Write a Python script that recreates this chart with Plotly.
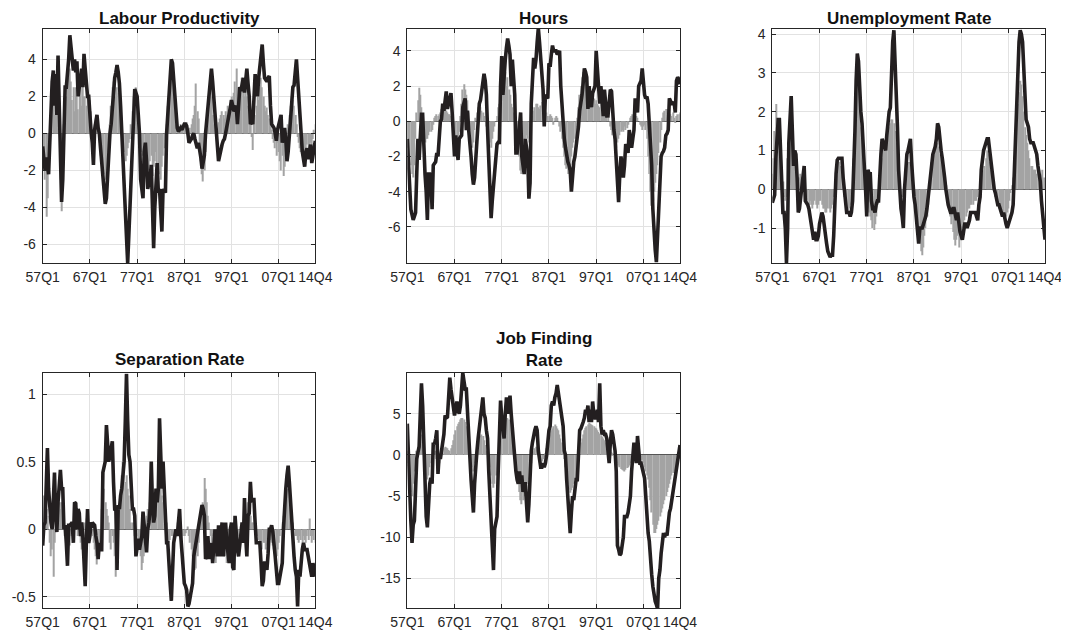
import plotly.graph_objects as go

# ---------------- data (quarterly, 1957Q1 .. 2014Q4) ----------------
tick_pos = [1, 41, 81, 121, 161, 201, 232]
tick_text = ["57Q1", "67Q1", "77Q1", "87Q1", "97Q1", "07Q1", "14Q4"]
quarters = list(range(1, 233))

titles = ["Labour Productivity", "Hours", "Unemployment Rate", "Separation Rate", "Job Finding<br>Rate"]

lp_model = [
    -0.7, -1.5, -2.0, -1.3, -1.8, -2.2, -0.5, 1.5, 2.8, 3.4,
    1.5, 3.2, 1.0, 4.2, 2.0, -1.5, -3.7, -2.5, 1.0, 2.5,
    2.5, 3.2, 4.0, 5.3, 4.5, 3.6, 3.4, 4.0, 3.3, 3.9,
    2.0, 2.5, 3.0, 3.5, 2.5, 4.3, 3.5, 2.6, 2.0, 2.0,
    0.5, 0.1, -0.5, -1.7, 0.2, 0.7, 1.0, 0.3, 0.0, -0.8,
    -1.6, -2.5, -3.2, -3.8, -3.5, -2.0, -1.0, 0.0, 0.5, 1.5,
    2.5, 3.0, 3.3, 3.7, 3.3, 2.7, 1.5, 0.0, -2.0, -3.2,
    -4.5, -5.8, -7.0, -5.5, -4.0, -2.5, -1.0, 1.5, 2.4, 2.2,
    2.0, 1.0, 0.0, -2.5, -3.0, -3.5, -1.0, -0.5, -1.5, -3.0,
    -2.7, -2.4, -1.7, -4.0, -6.2, -4.0, -2.5, -1.6, -3.2, -3.0,
    -4.2, -5.3, -3.0, -3.1, -3.2, 0.0, 1.2, 2.5, 3.2, 4.0,
    3.8, 3.0, 2.0, 1.0, 0.3, 0.1, 0.2, 0.3, 0.2, 0.4,
    0.5, 0.5, 0.4, 0.0, -0.5, -0.4, -0.3, -0.1, 0.0, -0.3,
    -0.6, -0.8, -0.5, -0.8, -1.3, -1.9, -1.5, -1.2, 0.0, 0.8,
    1.3, 2.2, 2.8, 3.5, 2.8, 2.0, 1.0, 0.0, -1.0, -1.5,
    -1.2, -0.8, -0.6, -0.4, -0.3, 0.0, 0.3, 0.7, 1.0, 1.4,
    1.8, 1.5, 1.2, 1.3, 1.5, 0.5, 1.5, 2.5, 2.3, 2.6,
    3.0, 2.2, 2.8, 3.5, 2.7, 2.0, 0.5, 0.6, 0.5, 1.8,
    3.2, 2.5, 2.0, 3.0, 3.5, 4.2, 4.8, 3.8, 3.0, 2.9,
    2.8, 3.0, 3.1, 1.5, 0.5, 0.4, 0.3, 0.0, -0.4, 0.2,
    0.5, 0.8, 1.0, -0.5, 0.0, 0.3, -0.3, -1.5, -1.0, -0.2,
    0.8, 1.8, 2.5, 2.6, 3.2, 4.0, 3.0, 2.0, 0.8, 0.0,
    -1.0, -1.4, -1.8, -1.0, -0.8, -1.4, -1.0, -0.6, -1.6, -1.0,
    -0.8, -0.4,
]
lp_data = [
    -1.0, -1.8, -2.5, -4.5, -3.5, -2.0, -0.5, 1.0, 2.0, 2.5,
    1.0, 2.0, 1.5, 3.0, 1.0, -2.5, -4.2, -2.0, 0.5, 1.5,
    2.0, 2.5, 3.0, 3.5, 2.8, 1.8, 2.5, 1.2, 2.5, 2.0,
    1.3, 2.2, 2.5, 1.5, 2.8, 2.0, 2.0, 1.5, 2.2, 2.0,
    1.8, 1.2, 0.2, -0.8, 0.5, 0.8, 1.0, 0.2, -0.5, -1.2,
    -1.5, -2.0, -2.2, -2.5, -2.0, -1.0, -0.3, 0.5, 1.5, 2.5,
    2.8, 3.0, 2.0, 2.5, 2.2, 1.5, 1.0, 0.5, -0.5, -1.0,
    -1.5, -1.2, -0.8, -0.5, -0.3, 0.5, 1.2, 2.0, 2.2, 2.5,
    1.5, 0.8, 0.3, -0.5, -1.0, -1.2, -0.8, -1.0, -1.5, -1.8,
    -2.0, -1.5, -1.2, -2.3, -1.8, -1.5, -1.0, -2.0, -1.6, -2.2,
    -2.5, -1.8, -1.2, -0.8, -0.5, 0.5, 1.5, 2.0, 2.5, 3.0,
    3.2, 2.5, 1.5, 0.5, 0.3, 0.4, 0.2, 0.5, 0.3, 0.4,
    0.5, 0.3, 0.6, 0.2, -0.3, 0.3, 0.5, 0.8, 1.0, 1.5,
    2.7, 1.2, 0.8, -0.5, -1.5, -2.2, -2.6, -2.0, -1.0, 0.5,
    1.2, 2.0, 2.5, 2.0, 1.0, 0.5, 0.8, 0.5, 0.3, 0.6,
    0.8, 1.0, 1.2, 1.0, 0.8, 1.2, 1.0, 1.5, 1.3, 1.8,
    2.0, 1.5, 2.2, 2.8, 3.5, 2.5, 2.0, 1.5, 2.2, 3.0,
    2.5, 2.0, 2.8, 2.0, 1.5, 1.0, 0.5, -0.2, -0.9, 0.5,
    1.0, 1.5, 2.0, 1.8, 2.5, 3.0, 2.5, 2.0, 1.5, 1.2,
    1.4, 1.0, 0.8, 0.5, 0.2, -0.3, -0.5, -0.8, -1.2, -0.5,
    -1.0, -1.5, -2.0, -1.2, -2.3, -1.8, -1.0, -0.5, 0.5, 1.0,
    1.5, 2.0, 1.8, 1.5, 1.0, 0.5, -0.2, -0.5, -0.8, -1.0,
    -1.2, -0.8, -1.5, -1.0, -0.6, -0.8, -1.2, -0.5, -0.8, -0.3,
    0.2, 0.5,
]

hours_model = [
    -1.0, -2.5, -3.5, -5.0, -5.3, -5.6, -5.4, -5.2, -3.0, -1.0,
    -2.2, -0.8, 0.4, 0.4, -2.0, -3.0, -4.0, -5.6, -3.0, -3.0,
    -3.2, -5.0, -2.5, -2.4, -2.3, -1.8, -2.0, -1.0, 0.0, 0.1,
    1.0, 0.6, 1.2, 1.7, 0.7, 1.1, 1.5, 1.6, 0.5, -1.0,
    -2.0, -0.8, -1.5, -2.2, -1.0, -0.9, -0.8, 0.8, 1.0, 1.3,
    -0.5, 0.6, -0.5, -1.7, -2.0, -3.0, -3.6, -3.2, -2.0, -1.0,
    0.0, 1.0, 1.2, 1.8, 2.5, 2.7, 2.3, 1.5, -0.5, -2.0,
    -3.5, -5.5, -4.5, -3.8, -2.8, -2.0, -1.3, -1.2, -1.2, 2.0,
    3.7, 1.5, 2.8, 3.5, 4.2, 4.7, 4.3, 3.8, 2.0, 3.5,
    2.5, 1.5, -1.8, -1.8, -1.0, -0.3, 0.5, -2.0, -2.8, -3.0,
    -1.0, -1.5, -2.0, -4.4, -3.5, 1.0, 2.0, 3.6, 3.0, 3.5,
    4.5, 5.3, 4.5, 3.5, 2.3, 1.8, -0.3, 1.5, 1.4, 1.3,
    3.3, 3.1, 3.8, 4.3, 4.0, 4.0, 4.0, 3.8, 3.9, 4.0,
    2.0, 1.0, -0.5, -1.0, -1.5, -2.0, -2.3, -2.5, -2.8, -4.0,
    -3.0, -2.3, -2.0, -1.5, -1.0, -0.3, 0.6, 1.0, 1.5, 2.2,
    3.0, 2.8, 2.5, 0.7, 2.0, 1.2, 0.8, 1.6, 1.8, 2.0,
    4.0, 3.0, 2.0, 1.0, 2.0, 1.0, 0.3, 1.8, 0.8, 0.3,
    0.3, 1.0, 1.8, 1.7, 0.2, -0.5, -1.0, -2.0, -3.0, -4.6,
    -3.0, -2.0, -2.5, -3.2, -2.5, -1.3, -1.5, -1.8, -0.5, -1.0,
    -1.5, -1.0, -0.5, 1.3, 0.8, 0.5, 2.0, 2.2, 2.3, 3.0,
    2.0, 1.5, 1.3, 1.4, 1.0, 0.0, -1.5, -2.5, -5.0, -6.5,
    -7.3, -8.0, -6.5, -5.0, -3.5, -2.0, -1.8, -1.7, -1.5, -0.8,
    -0.7, -0.5, 1.3, 1.1, 1.0, 1.0, 1.1, 0.5, 2.3, 2.5,
    2.4, 2.1,
]
hours_data = [
    -1.0, -1.5, -2.0, -2.5, -3.0, -3.2, -2.5, -1.0, 0.5, 1.2,
    1.9, 1.5, 0.8, -0.3, -1.0, -1.2, -1.0, -1.0, -0.8, -0.6,
    -0.6, -0.5, -0.2, 0.2, 0.3, 0.4, 0.3, 0.4, 0.5, 0.7,
    0.8, 1.0, 0.8, 0.6, 0.5, 0.4, 0.4, 0.3, 0.0, -0.5,
    -1.0, -1.2, -1.5, -1.0, -0.6, 0.3, 1.0, 1.8, 2.1, 1.8,
    1.5, 1.2, 0.5, -0.5, -1.2, -1.5, -1.2, -0.5, 0.2, 0.5,
    0.8, 1.0, 0.8, 0.6, 0.5, 0.3, 0.0, -0.3, -0.5, -0.8,
    -1.2, -1.5, -1.0, -0.6, -0.3, 0.0, 0.3, 0.8, 1.0, 1.5,
    2.0, 2.5, 3.0, 2.8, 2.0, 2.5, 1.8, 1.5, 1.0, 0.8,
    0.5, 0.3, -0.5, -1.0, -1.5, -2.0, -2.8, -3.0, -2.5, -1.5,
    -1.0, -0.8, -1.0, -1.2, -0.8, 0.0, 0.3, 0.6, 0.8, 1.0,
    1.0, 0.8, 0.7, 0.9, 1.1, 1.0, 0.8, 0.6, 0.5, 0.3,
    0.3, 0.4, 0.3, 0.2, -0.2, 0.2, 0.3, 0.2, 0.0, -0.3,
    -0.6, -1.0, -1.5, -2.0, -2.5, -2.7, -3.0, -2.8, -2.5, -2.0,
    -1.5, -1.2, -1.0, -0.6, 0.2, 0.8, 1.5, 2.0, 2.5, 2.8,
    2.7, 2.5, 2.2, 1.8, 1.5, 1.2, 1.0, 1.1, 1.3, 1.0,
    1.2, 1.0, 0.9, 0.8, 1.0, 0.6, 0.4, 0.3, 0.2, 0.3,
    0.2, 0.0, -0.3, -0.5, -0.8, -1.0, -1.3, -1.5, -1.2, -1.0,
    -0.8, -0.6, -0.5, -0.6, -0.3, -0.5, -0.4, -0.2, 0.0, 0.2,
    0.3, 0.4, 0.5, 0.4, 0.3, 0.2, 0.0, -0.2, -0.3, -0.5,
    -0.3, -0.2, -0.5, -1.0, -2.0, -3.0, -4.0, -4.8, -4.5, -4.0,
    -3.5, -3.0, -2.5, -1.8, -1.2, -0.5, 0.2, 0.5, 0.6, 0.7,
    0.7, 0.6, 0.5, 0.4, 0.3, 0.5, 0.2, -0.1, 0.3, 0.4,
    0.4, 0.5,
]

ur_model = [
    -0.35, -0.25, -0.15, 0.8, 1.5, 1.8, 1.8, 0.8, 0.0, -0.6,
    -0.6, -1.0, -1.9, -1.0, 1.2, 2.0, 2.4, 1.5, 0.6, 1.0,
    0.9, 0.3, -0.6, -0.5, -0.2, 0.0, 0.4, 0.6, -0.3, -0.35,
    -0.4, -0.5, -0.7, -0.9, -1.1, -1.3, -1.1, -1.3, -1.3, -1.2,
    -0.9, -0.7, -0.6, -0.7, -1.0, -1.2, -1.4, -1.6, -1.7, -1.75,
    -1.7, -1.7, -1.2, -0.3, 0.4, 0.75, 0.8, 0.8, 0.8, 0.8,
    0.3, 0.0, -0.1, -0.6, -0.6, -0.6, -0.7, -0.6, -0.3, 0.5,
    1.5, 2.8, 3.5, 3.3, 2.5, 2.0, 1.7, 1.2, 0.6, 0.0,
    -0.7, 0.5, 0.4, 0.4, -0.3, -0.5, -0.5, -0.6, -0.4, -0.3,
    -0.3, 0.5, 0.9, 1.3, 1.2, 1.1, 1.0, 1.4, 1.8, 2.0,
    2.1, 3.0, 3.8, 4.1, 3.4, 2.7, 1.6, 0.5, -0.1, -0.5,
    -0.7, -1.0, 0.0, 0.6, 0.9, 1.0, 1.2, 1.3, 0.7, 0.2,
    -0.2, -0.4, -0.7, -1.2, -1.4, -1.0, -1.0, -1.0, -0.9, -0.8,
    -0.7, -0.5, -0.2, 0.2, 0.5, 0.8, 0.9, 1.0, 1.1, 1.3,
    1.7, 1.6, 1.2, 1.0, 0.8, 0.6, 0.3, 0.0, -0.3, -0.4,
    -0.5, -0.6, -0.6, -0.5, -0.5, -0.7, -0.8, -0.6, -0.9, -1.1,
    -1.2, -1.3, -1.1, -0.9, -0.9, -1.0, -0.9, -0.8, -0.6, -0.6,
    -0.6, -0.6, -0.6, -0.7, -0.8, -0.4, -0.2, 0.5, 0.8, 1.0,
    1.1, 1.2, 1.3, 1.3, 1.0, 0.8, 0.4, 0.1, 0.0, -0.1,
    -0.3, -0.4, -0.4, -0.5, -0.6, -0.7, -0.6, -0.8, -0.9, -1.0,
    -0.9, -0.8, -0.7, -0.6, -0.4, 0.5, 1.5, 2.5, 3.5, 3.8,
    4.1, 4.0, 3.8, 3.0, 2.5, 1.8, 1.7, 1.6, 1.3, 1.2,
    1.2, 1.2, 1.1, 1.0, 0.9, 0.6, 0.4, 0.2, -0.3, -0.7,
    -1.0, -1.3,
]
ur_data = [
    0.4, 0.8, 1.5, 2.2, 1.8, 1.5, 1.2, 0.8, 0.5, 0.2,
    -0.2, -0.3, -0.2, 0.8, 1.5, 2.0, 1.5, 0.8, 0.7, 0.6,
    0.5, 0.3, 0.1, 0.3, 0.4, 0.3, 0.2, 0.2, 0.0, -0.2,
    -0.3, -0.4, -0.3, -0.4, -0.5, -0.4, -0.3, -0.4, -0.5, -0.4,
    -0.3, -0.3, -0.4, -0.5, -0.5, -0.6, -0.6, -0.5, -0.5, -0.6,
    -0.5, -0.4, -0.2, 0.2, 0.5, 0.7, 0.75, 0.7, 0.6, 0.5,
    0.2, -0.2, -0.4, -0.5, -0.6, -0.5, -0.4, -0.3, 0.0, 0.8,
    1.8, 2.8, 3.2, 3.0, 2.2, 1.6, 1.2, 0.8, 0.4, 0.0,
    -0.3, -0.5, -0.6, -0.7, -0.8, -1.0, -1.05, -0.9, -0.7, -0.4,
    -0.2, 0.3, 0.6, 0.8, 1.0, 1.1, 1.2, 1.3, 1.5, 1.6,
    1.7, 1.8, 1.8, 1.7, 1.5, 1.2, 0.8, 0.4, 0.1, -0.1,
    -0.2, -0.1, 0.1, 0.4, 0.6, 0.7, 0.7, 0.6, 0.4, 0.1,
    -0.2, -0.5, -0.8, -1.0, -1.2, -1.4, -1.6, -1.7, -1.5, -1.2,
    -1.0, -0.7, -0.4, 0.0, 0.4, 0.7, 0.8, 0.9, 1.0, 1.1,
    1.2, 1.1, 0.9, 0.7, 0.5, 0.3, 0.2, 0.1, -0.1, -0.3,
    -0.5, -0.7, -0.9, -1.1, -1.3, -1.45, -1.3, -1.2, -1.5, -1.3,
    -1.2, -1.0, -0.9, -0.8, -0.7, -0.6, -0.5, -0.5, -0.4, -0.4,
    -0.4, -0.3, -0.3, -0.3, -0.2, 0.0, 0.2, 0.3, 0.4, 0.5,
    0.6, 0.8, 1.0, 0.9, 0.7, 0.5, 0.3, 0.2, 0.0, -0.2,
    -0.3, -0.4, -0.5, -0.5, -0.6, -0.7, -0.7, -0.8, -0.7, -0.6,
    -0.5, -0.3, -0.1, 0.1, 0.3, 0.8, 1.3, 1.8, 2.2, 2.5,
    2.8, 2.7, 2.4, 2.0, 1.6, 1.4, 1.2, 1.0, 0.8, 0.6,
    0.6, 0.5, 0.5, 0.5, 0.4, 0.5, 0.5, 0.3, 0.4, 0.5,
    0.3, 0.2,
]

sep_model = [
    -0.12, 0.03, 0.05, 0.35, 0.6, 0.3, 0.1, 0.05, 0.0, 0.2,
    0.42, 0.1, -0.02, 0.2, 0.3, 0.44, 0.3, 0.3, 0.0, 0.03,
    -0.1, -0.27, 0.03, 0.03, 0.04, 0.05, -0.1, 0.2, 0.19, 0.0,
    0.15, 0.12, -0.05, 0.05, -0.05, -0.2, -0.42, -0.1, 0.15, -0.1,
    -0.05, 0.05, 0.03, 0.04, 0.03, -0.05, -0.1, -0.22, -0.1, -0.15,
    -0.15, 0.42, 0.45, 0.5, 0.77, 0.6, 0.5, 0.55, 0.62, 0.65,
    0.35, 0.15, 0.15, -0.3, 0.18, 0.15, 0.25, 0.3, 0.4, 0.5,
    0.8, 1.15, 0.8, 0.55, 0.5, 0.3, 0.15, 0.15, 0.1, -0.2,
    -0.1, -0.07, -0.15, -0.1, -0.05, 0.13, 0.05, -0.05, -0.17, 0.0,
    0.05, 0.15, 0.5, 0.2, 0.05, 0.1, 0.3, 0.2, 0.3, 0.82,
    0.6, 0.3, 0.5, 0.3, 0.1, -0.1, -0.1, -0.3, -0.4, -0.53,
    -0.2, -0.1, -0.05, 0.0, -0.05, 0.1, 0.15, -0.05, -0.2, -0.35,
    -0.4, -0.42, -0.45, -0.57, -0.55, -0.5, -0.45, -0.4, -0.2, -0.15,
    -0.1, -0.05, 0.0, 0.05, 0.1, 0.18, 0.15, 0.1, -0.22, -0.2,
    -0.05, -0.22, -0.15, -0.1, -0.25, -0.15, 0.0, -0.1, -0.2, 0.03,
    -0.2, -0.05, 0.05, -0.2, -0.1, 0.05, -0.1, -0.2, -0.25, 0.0,
    0.05, -0.28, -0.3, 0.1, -0.1, -0.15, -0.2, -0.1, 0.0, 0.05,
    -0.1, 0.23, -0.05, -0.2, 0.1, 0.12, 0.35, 0.2, 0.22, 0.22,
    0.05, -0.1, -0.1, -0.1, -0.1, -0.25, -0.42, -0.38, -0.25, -0.25,
    -0.3, -0.18, 0.0, 0.0, 0.03, -0.02, -0.15, -0.2, -0.3, -0.4,
    -0.4, -0.35, -0.3, -0.25, 0.0, 0.2, 0.3, 0.4, 0.47, 0.35,
    0.2, 0.0, -0.1, -0.2, -0.3, -0.35, -0.57, -0.3, -0.35, -0.2,
    -0.15, -0.1, -0.15, -0.15, -0.15, -0.2, -0.25, -0.3, -0.35, -0.25,
    -0.3, -0.35,
]
sep_data = [
    0.2, 0.25, 0.2, 0.15, 0.1, 0.0, -0.1, -0.2, -0.15, -0.35,
    -0.1, 0.05, 0.1, 0.15, 0.2, 0.15, 0.2, 0.1, 0.05, -0.05,
    -0.1, -0.15, -0.1, -0.12, -0.05, 0.02, 0.05, 0.08, 0.05, 0.0,
    -0.05, 0.05, -0.1, -0.15, 0.05, -0.05, 0.05, 0.08, 0.0, -0.05,
    0.03, 0.05, -0.05, -0.1, -0.15, -0.2, -0.26, -0.2, -0.15, 0.0,
    0.15, 0.25, 0.3, 0.2, 0.15, 0.1, 0.05, -0.1, -0.15, -0.05,
    -0.1, -0.2, -0.35, -0.2, 0.05, 0.15, 0.3, 0.4, 0.5, 0.45,
    0.35, 0.4, 0.3, 0.25, 0.15, 0.05, 0.05, 0.0, -0.05, -0.05,
    -0.05, -0.1, -0.15, -0.2, -0.3, -0.25, -0.2, -0.1, 0.1, 0.15,
    0.15, 0.2, 0.25, 0.2, 0.15, 0.2, 0.25, 0.3, 0.35, 0.3,
    0.3, 0.25, 0.2, 0.25, 0.15, 0.05, -0.05, -0.1, -0.08, -0.05,
    -0.05, -0.1, -0.05, 0.0, 0.05, 0.03, 0.0, -0.05, -0.1, -0.05,
    -0.05, -0.03, 0.0, 0.02, -0.05, -0.1, -0.15, -0.2, -0.25, -0.3,
    -0.29, -0.2, -0.1, 0.0, 0.1, 0.15, 0.2, 0.38, 0.3, 0.2,
    0.1, 0.05, -0.05, -0.1, -0.05, -0.15, -0.2, -0.25, -0.15, -0.1,
    -0.05, -0.1, -0.15, -0.2, -0.15, -0.2, -0.25, -0.2, -0.15, -0.2,
    -0.15, -0.2, -0.2, -0.1, -0.15, -0.1, -0.05, 0.0, 0.02, 0.05,
    0.0, 0.1, 0.05, 0.1, 0.2, 0.15, 0.1, 0.05, 0.05, 0.0,
    0.02, -0.03, -0.05, -0.08, -0.1, -0.12, -0.15, -0.1, -0.1, -0.15,
    -0.12, -0.1, -0.08, -0.05, -0.1, -0.12, -0.15, -0.18, -0.2, -0.15,
    -0.1, -0.05, 0.0, 0.05, 0.1, 0.15, 0.2, 0.25, 0.3, 0.25,
    0.15, 0.1, 0.05, 0.0, -0.05, -0.05, -0.08, -0.1, -0.05, -0.08,
    -0.1, -0.05, -0.08, -0.1, -0.05, -0.08, 0.08, -0.05, -0.1, -0.05,
    -0.08, -0.1,
]

jf_model = [
    3.8, -1.0, -2.5, -8.0, -10.7, -8.5, -8.0, -3.0, -0.5, 0.3,
    1.0, 5.0, 8.7, 6.0, 0.0, -5.0, -7.5, -8.8, -5.0, -3.5,
    -2.8, -3.5, 1.5, 1.3, 2.0, 3.0, -2.3, 0.0, -0.5, 0.5,
    1.0, 2.5, 4.8, 4.5, 4.6, 7.8, 9.4, 8.0, 7.0, 6.0,
    4.8, 5.5, 6.5, 5.5, 5.0, 6.0, 8.0, 10.0, 9.0, 8.0,
    8.0, 5.0, 1.5, -1.0, -3.0, -5.0, -7.0, -3.5, -1.0, 0.5,
    2.0, 3.5, 5.0, 5.5, 7.0, 5.0, 4.5, 3.0, 2.0, -2.0,
    -5.0, -7.0, -11.0, -14.0, -9.0, -8.0, -7.5, -2.0, 3.0, 6.6,
    4.5, 3.5, 2.0, 5.0, 7.0, 5.0, 6.5, 7.2, 5.0, 3.0,
    1.0, 0.0, -2.0, -3.0, -3.5, -2.0, -3.5, -2.5, -4.5, -3.5,
    -3.5, -6.0, -8.2, -6.0, -2.0, 0.5, 1.5, 2.5, 3.0, 3.5,
    3.0, 0.5, -0.5, -1.5, -1.5, -1.0, -1.5, -1.0, 0.0, 2.0,
    3.0, 3.5, 6.0, 6.5, 6.0, 7.0, 7.5, 8.5, 7.5, 6.5,
    6.0, 5.0, 3.5, 0.5, 0.0, -3.0, -5.5, -7.0, -9.5, -7.0,
    -5.0, -5.5, -4.5, -3.0, -3.0, 0.0, 3.0, 3.2, 3.5, 4.0,
    4.5, 5.5, 5.0, 6.0, 4.0, 5.5, 4.0, 6.5, 5.0, 4.5,
    4.5, 5.5, 4.0, 8.7, 3.5, 2.5, 3.0, 2.5, 2.5, 2.0,
    0.5, -1.0, 1.5, 3.0, 2.5, 1.5, 0.5, -2.0, -11.0, -11.5,
    -12.2, -12.0, -11.0, -10.0, -7.5, -7.5, -7.5, -7.0, -6.0, -5.0,
    -2.0, 0.0, 1.5, 0.5, -1.0, 2.3, 0.0, -1.0, -1.0, -1.5,
    -2.0, -2.8, -5.0, -7.5, -9.5, -10.5, -13.0, -14.5, -16.0, -17.0,
    -17.8, -18.2, -18.7, -15.0, -14.0, -12.0, -10.5, -9.5, -10.0, -9.5,
    -9.8, -8.0, -7.0, -6.5, -5.5, -5.0, -4.0, -3.0, -2.0, -1.0,
    0.5, 1.2,
]
jf_data = [
    0.5, -1.0, -2.5, -4.5, -5.0, -3.5, -2.0, -0.5, 0.5, 1.0,
    1.5, 2.0, 2.5, 1.5, 0.0, -1.5, -2.5, -3.0, -2.5, -1.5,
    -1.0, -0.5, 0.0, 0.3, 0.5, -0.5, -1.5, -1.0, -0.3, 0.0,
    0.3, 0.8, 1.0, 0.9, 0.8, 0.6, 0.5, 0.8, 1.2, 1.8,
    2.5, 3.0, 3.5, 3.8, 4.0, 4.3, 4.5, 4.5, 4.3, 4.0,
    3.5, 2.5, 1.0, -0.5, -1.0, -1.5, -2.0, -1.0, 0.0, 0.8,
    1.5, 2.0, 2.3, 2.5, 2.3, 1.8, 1.2, 0.5, 0.0, -0.8,
    -1.5, -2.5, -3.5, -4.0, -3.5, -2.5, -1.5, 0.0, 1.5, 2.5,
    3.0, 3.5, 3.8, 4.0, 4.3, 4.5, 4.3, 4.0, 3.0, 1.5,
    0.5, -0.5, -1.5, -2.5, -3.5, -4.5, -5.5, -6.0, -5.5, -5.0,
    -4.5, -4.0, -3.5, -3.0, -2.0, -1.0, 0.0, 0.5, 0.8, 1.0,
    0.8, 0.5, 0.0, -0.5, -0.8, -0.5, -0.3, 0.2, 0.8, 1.5,
    2.0, 2.5, 3.0, 3.2, 3.5, 3.7, 3.5, 3.2, 3.0, 2.5,
    2.0, 1.5, 0.5, -0.5, -1.5, -2.5, -3.5, -4.2, -4.6, -4.3,
    -4.0, -3.5, -3.0, -2.5, -1.5, -0.5, 0.5, 1.5, 2.0, 2.5,
    3.0, 3.3, 3.5, 3.7, 3.9, 3.8, 3.7, 3.6, 3.5, 3.3,
    3.2, 3.0, 2.8, 2.6, 2.4, 2.2, 2.0, 1.8, 1.5, 1.2,
    1.0, 0.8, 0.6, 0.4, 0.2, 0.0, -0.3, -0.6, -1.0, -1.3,
    -1.5, -1.7, -1.8, -1.9, -2.0, -1.8, -1.6, -1.5, -1.3, -1.0,
    -0.8, -0.5, -0.3, 0.0, 0.3, 0.5, 0.3, 0.0, -0.3, -0.6,
    -1.0, -1.5, -2.0, -2.5, -3.0, -4.0, -5.5, -7.0, -8.5, -9.5,
    -9.5, -9.0, -8.5, -8.0, -7.5, -7.0, -6.5, -6.0, -5.5, -5.0,
    -4.5, -4.0, -3.5, -3.0, -2.5, -2.2, -2.0, -1.5, -1.2, -0.8,
    -0.5, -0.2,
]

y_ranges = [[-7.0, 5.64], [-8.07, 5.26], [-1.91, 4.14], [-0.584, 1.153], [-18.65, 10.0]]
y_ticks = [[-6, -4, -2, 0, 2, 4], [-6, -4, -2, 0, 2, 4], [-1, 0, 1, 2, 3, 4],
           [-0.5, 0, 0.5, 1], [-15, -10, -5, 0, 5]]
y_ticktext = [["-6", "-4", "-2", "0", "2", "4"], ["-6", "-4", "-2", "0", "2", "4"],
              ["-1", "0", "1", "2", "3", "4"], ["-0.5", "0", "0.5", "1"],
              ["-15", "-10", "-5", "0", "5"]]

series_data = [lp_data, hours_data, ur_data, sep_data, jf_data]
series_model = [lp_model, hours_model, ur_model, sep_model, jf_model]
for s in series_data + series_model:
    assert len(s) == 232, len(s)

# ---------------- layout ----------------
W, H = 1069, 637
OFF = 8  # the page body margin shifts the figure by 8 px
boxes = [  # left, right, top, bottom (window pixels)
    (42.7, 315.3, 29.0, 263.0),
    (407.3, 680.0, 28.7, 263.3),
    (772.3, 1045.0, 28.7, 263.3),
    (42.7, 315.3, 373.3, 608.3),
    (407.3, 680.0, 372.7, 608.3),
]
# (anchor, window-pixel y) for each title
title_pos = [("top", 8.0), ("top", 8.0), ("top", 8.0), ("middle", 359.5), ("middle", 349.5)]

AX = "#262626"
GRID = "#e2e2e2"
FONT = "Liberation Sans, Arial, Helvetica, sans-serif"

fig = go.Figure()
layout = dict(
    width=W, height=H, margin=dict(l=0, r=0, t=0, b=0, autoexpand=False),
    paper_bgcolor="white", plot_bgcolor="white",
    showlegend=False, bargap=0.12,
    font=dict(family=FONT, size=14, color=AX),
    annotations=[],
)

for i in range(5):
    n = i + 1
    xa = "x" if n == 1 else f"x{n}"
    ya = "y" if n == 1 else f"y{n}"
    l, r, t, b = [v - OFF for v in boxes[i]]
    fig.add_trace(go.Bar(x=quarters, y=series_data[i], xaxis=xa, yaxis=ya,
                         marker=dict(color="#a3a3a3", line=dict(width=0)),
                         hoverinfo="skip"))
    fig.add_trace(go.Scatter(x=quarters, y=series_model[i], xaxis=xa, yaxis=ya,
                             mode="lines", line=dict(color="#231f20", width=3.6),
                             hoverinfo="skip"))
    common = dict(showline=True, linecolor=AX, linewidth=1, mirror="ticks",
                  ticks="inside", ticklen=4, tickcolor=AX, tickwidth=1,
                  showgrid=True, gridcolor=GRID, gridwidth=1,
                  tickfont=dict(family=FONT, size=14, color=AX),
                  fixedrange=True, automargin=False)
    layout["xaxis" if n == 1 else f"xaxis{n}"] = dict(
        common, domain=[l / W, r / W], anchor=ya, range=[1, 232],
        tickmode="array", tickvals=tick_pos, ticktext=tick_text,
        tickangle=0, zeroline=False, ticklabelstandoff=1)
    layout["yaxis" if n == 1 else f"yaxis{n}"] = dict(
        common, domain=[1 - b / H, 1 - t / H], anchor=xa, range=y_ranges[i],
        tickmode="array", tickvals=y_ticks[i], ticktext=y_ticktext[i],
        zeroline=True, zerolinecolor="#555555", zerolinewidth=1.2,
        ticklabelstandoff=3)
    anc, ty = title_pos[i]
    layout["annotations"].append(dict(
        text=f"<b>{titles[i]}</b>", x=(l + r) / 2 / W, y=1 - (ty - OFF) / H,
        xref="paper", yref="paper", xanchor="center", yanchor=anc,
        borderpad=0, showarrow=False,
        font=dict(family=FONT, size=17, color="#111111")))

fig.update_layout(**layout)
fig.write_html("out.html")
